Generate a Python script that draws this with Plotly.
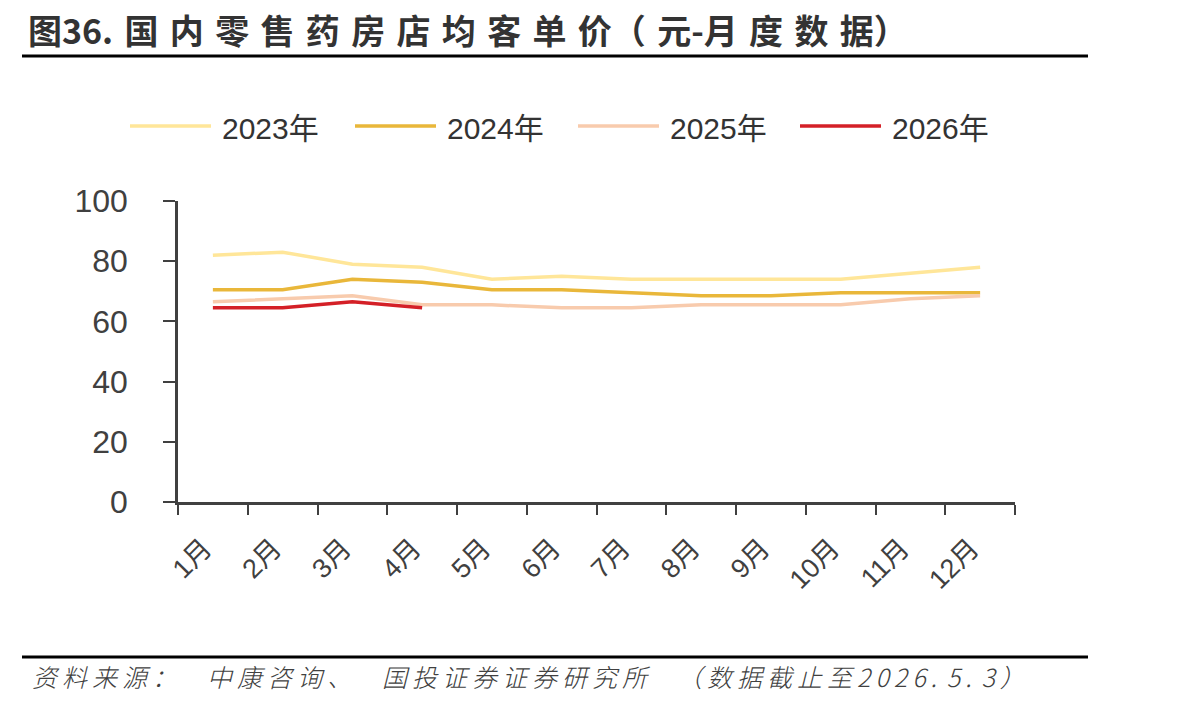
import plotly.graph_objects as go

months = ["1月", "2月", "3月", "4月", "5月", "6月", "7月", "8月", "9月", "10月", "11月", "12月"]
series_names = ["2023年", "2024年", "2025年", "2026年"]
v2023 = [82, 83, 79, 78, 74, 75, 74, 74, 74, 74, 76, 78]
v2024 = [70.5, 70.5, 74, 73, 70.5, 70.5, 69.5, 68.5, 68.5, 69.5, 69.5, 69.5]
v2025 = [66.5, 67.5, 68.5, 65.5, 65.5, 64.5, 64.5, 65.5, 65.5, 65.5, 67.5, 68.5]
v2026 = [64.5, 64.5, 66.5, 64.5]
colors = ["#FFE699", "#E9B73A", "#F8CBAD", "#D42027"]
y_ticks = [0, 20, 40, 60, 80, 100]

W, H = 1204, 706
L, R, T, B = 178, 1015, 201, 502

def px(x):
    return (x - L) / (R - L)

def py(y):
    return (B - y) / (B - T)

fig = go.Figure()
all_vals = [v2023, v2024, v2025, v2026]
for name, vals, col in zip(series_names, all_vals, colors):
    fig.add_trace(go.Scatter(x=months[:len(vals)], y=vals, mode="lines", name=name,
                             line=dict(color=col, width=3.5), showlegend=False))

font_num = "Liberation Sans, Arial, Noto Sans CJK SC, sans-serif"
axis_col = "#404040"

fig.update_layout(
    width=W, height=H,
    margin=dict(l=L, r=W - R, t=T, b=H - B),
    paper_bgcolor="white", plot_bgcolor="white",
    xaxis=dict(type="category", categoryorder="array", categoryarray=months,
               range=[-0.5, 11.5], showline=True, linecolor=axis_col, linewidth=2.5,
               ticks="outside", ticklen=10, tickwidth=2, tickcolor=axis_col,
               tickson="boundaries",
               tickangle=-45, showgrid=False, zeroline=False,
               tickfont=dict(family=font_num, size=27, color=axis_col),
               ticklabelstandoff=17, ticklabelshift=-9),
    yaxis=dict(range=[0, 100], showline=True, linecolor=axis_col, linewidth=2.5,
               ticks="outside", ticklen=12, tickwidth=2, tickcolor=axis_col,
               tickvals=y_ticks, showgrid=False, zeroline=False,
               tickfont=dict(family=font_num, size=32, color=axis_col),
               ticklabelstandoff=29),
)

shapes = []
annotations = []

SP = "\u2004"
# Title
title = ("图36." + SP + SP.join("国内零售药房店均客单价") + "（" + SP + "元-月" + SP + "度" + SP + "数" + SP + "据）")
annotations.append(dict(text=title, x=px(26), y=py(30), xref="paper", yref="paper",
                        xanchor="left", yanchor="middle", showarrow=False,
                        font=dict(family="Noto Sans CJK SC", size=34, color="#333333", weight=700)))
shapes.append(dict(type="line", xref="paper", yref="paper", x0=px(22), x1=px(1088),
                   y0=py(56), y1=py(56), line=dict(color="black", width=3)))

# Legend (manual)
leg_line_x = [130, 355, 578, 800]
for name, col, lx in zip(series_names, colors, leg_line_x):
    shapes.append(dict(type="line", xref="paper", yref="paper", x0=px(lx), x1=px(lx + 81),
                       y0=py(126), y1=py(126), line=dict(color=col, width=3.5)))
    annotations.append(dict(text=name, x=px(lx + 90), y=py(128), xref="paper", yref="paper",
                            xanchor="left", yanchor="middle", showarrow=False,
                            font=dict(family=font_num, size=30, color="#333333")))

# Footer
shapes.append(dict(type="line", xref="paper", yref="paper", x0=px(22), x1=px(1088),
                   y0=py(657), y1=py(657), line=dict(color="black", width=3)))
TS = "\u2009"
EM = "\u2003"
footer_parts = ["资料来源：", EM, "中康咨询、", EM, "国投证券证券研究所", EM, "（数据截止至",
                "2026.", TS, "5.", TS, "3）"]
footer_spaced = ""
for part in footer_parts:
    if part in (EM, TS):
        footer_spaced += part
    else:
        footer_spaced += TS.join(part) + TS
annotations.append(dict(text="<i>" + footer_spaced + "</i>", x=px(30), y=py(676), xref="paper", yref="paper",
                        xanchor="left", yanchor="middle", showarrow=False,
                        font=dict(family="Noto Sans CJK SC", size=25, color="#404040", weight=300)))

fig.update_layout(shapes=shapes, annotations=annotations)
fig.write_html("out.html")
